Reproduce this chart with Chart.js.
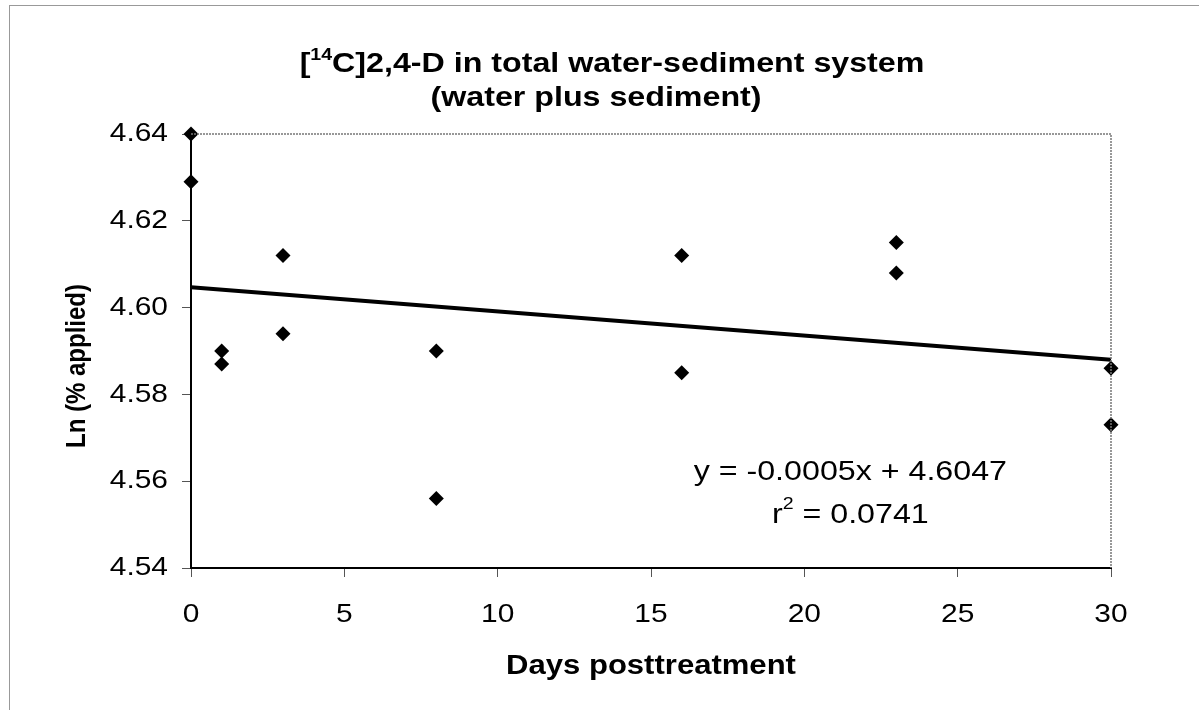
<!DOCTYPE html>
<html>
<head>
<meta charset="utf-8">
<script src="https://cdn.jsdelivr.net/npm/chart.js@4.4.1/dist/chart.umd.min.js"></script>
<style>
  html, body { margin: 0; padding: 0; background: #fff; }
  #wrap { position: relative; width: 1199px; height: 710px; }
  #frame { position: absolute; left: 9px; top: 5px; right: 0; bottom: 0;
           border-top: 1px solid #999; border-left: 1px solid #999; pointer-events: none; }
</style>
</head>
<body>
<div id="wrap">
  <canvas id="chart" width="1199" height="710"></canvas>
  <div id="frame"></div>
</div>
<script>
const days = [0, 0, 1, 1, 3, 3, 8, 8, 16, 16, 23, 23, 30, 30];
const lnApplied = [4.640, 4.629, 4.590, 4.587, 4.612, 4.594, 4.590, 4.556,
                   4.612, 4.585, 4.615, 4.608, 4.586, 4.573];
const trendDays = [0, 30];
const trendValues = [4.6047, 4.5880];
const xTicks = [0, 5, 10, 15, 20, 25, 30];
const yTicks = [4.54, 4.56, 4.58, 4.60, 4.62, 4.64];
const equationText = 'y = -0.0005x + 4.6047';
const r2Value = ' = 0.0741';

const FONT = '"Liberation Sans", Arial, sans-serif';
const STRETCH = 1.15; // the scanned figure has horizontally wide lettering

// widen every piece of text around its anchor point, in screen space
function stretchText(ctx) {
  const orig = ctx.fillText.bind(ctx);
  ctx.fillText = function (text, x, y, maxWidth) {
    const m = ctx.getTransform();
    const p = m.transformPoint(new DOMPoint(x, y));
    ctx.save();
    ctx.setTransform(new DOMMatrix([STRETCH, 0, 0, 1, p.x * (1 - STRETCH), 0]).multiply(m));
    if (maxWidth === undefined) orig(text, x, y);
    else orig(text, x, y, maxWidth);
    ctx.restore();
  };
}

// draws text made of [string, font, raise] parts, centred on cx
function drawParts(c, parts, cx, y) {
  let total = 0;
  parts.forEach(p => { c.font = p[1]; total += c.measureText(p[0]).width * STRETCH; });
  let x = cx - total / 2;
  c.textAlign = 'left';
  parts.forEach(p => {
    c.font = p[1];
    c.fillText(p[0], x, y - p[2]);
    x += c.measureText(p[0]).width * STRETCH;
  });
}

const decorPlugin = {
  id: 'decor',
  afterDraw(chart) {
    const c = chart.ctx;
    const area = chart.chartArea;
    const xs = chart.scales.x;
    const ys = chart.scales.y;
    c.save();

    // dotted frame on top and right of the plot
    c.strokeStyle = '#777';
    c.lineWidth = 1.5;
    c.setLineDash([2, 1]);
    c.beginPath();
    c.moveTo(area.left, area.top);
    c.lineTo(area.right, area.top);
    c.lineTo(area.right, area.bottom);
    c.stroke();
    c.setLineDash([]);

    c.fillStyle = '#000';
    c.textBaseline = 'alphabetic';

    const big = 'bold 28px ' + FONT;
    const sup = 'bold 17px ' + FONT;
    drawParts(c, [['[', big, 0], ['14', sup, 12],
                  ['C]2,4-D in total water-sediment system', big, 0]], 612, 72);
    drawParts(c, [['(water plus sediment)', big, 0]], 596, 106);

    // axis titles
    c.font = 'bold 27px ' + FONT;
    c.textAlign = 'center';
    c.textBaseline = 'middle';
    c.fillText('Days posttreatment', 651, 667);
    c.save();
    c.translate(77, 366);
    c.rotate(-Math.PI / 2);
    c.font = 'bold 24px ' + FONT;
    c.fillText('Ln (% applied)', 0, 0);
    c.restore();

    // regression label
    const ex = xs.getPixelForValue(21.5);
    c.font = '28px ' + FONT;
    c.textAlign = 'center';
    c.fillText(equationText, ex, ys.getPixelForValue(4.5621));
    drawParts(c, [['r', '28px ' + FONT, 0], ['2', '17px ' + FONT, 11],
                  [r2Value, '28px ' + FONT, 0]], ex, ys.getPixelForValue(4.5522));

    c.restore();
  }
};

const canvas = document.getElementById('chart');
stretchText(canvas.getContext('2d'));

new Chart(canvas, {
  type: 'scatter',
  data: {
    datasets: [
      {
        type: 'line',
        label: 'Trend',
        data: trendDays.map((d, i) => ({ x: d, y: trendValues[i] })),
        borderColor: '#000',
        borderWidth: 4,
        pointRadius: 0,
        fill: false,
        clip: false,
        order: 2
      },
      {
        label: 'Ln (% applied)',
        data: days.map((d, i) => ({ x: d, y: lnApplied[i] })),
        pointStyle: 'rectRot',
        pointRadius: 7.5,
        pointHoverRadius: 7.5,
        backgroundColor: '#000',
        borderColor: '#000',
        borderWidth: 0,
        clip: false,
        order: 1
      }
    ]
  },
  options: {
    responsive: false,
    animation: false,
    layout: { padding: { top: 134, right: 88, left: 0, bottom: 0 } },
    plugins: {
      legend: { display: false },
      tooltip: { enabled: false },
      title: { display: false }
    },
    scales: {
      x: {
        type: 'linear',
        min: 0,
        max: 30,
        afterFit: s => { s.height = 142; },
        afterBuildTicks: s => { s.ticks = xTicks.map(v => ({ value: v })); },
        ticks: { color: '#000', font: { family: FONT, size: 26 }, padding: 22 },
        grid: { drawOnChartArea: false, drawTicks: true, tickLength: 9, color: '#555' },
        border: { display: true, color: '#000', width: 2 }
      },
      y: {
        type: 'linear',
        min: 4.54,
        max: 4.64,
        afterFit: s => { s.width = 191; },
        afterBuildTicks: s => { s.ticks = yTicks.map(v => ({ value: v })); },
        ticks: {
          color: '#000',
          font: { family: FONT, size: 26 },
          padding: 14,
          callback: v => v.toFixed(2)
        },
        grid: { drawOnChartArea: false, drawTicks: true, tickLength: 9, color: '#555' },
        border: { display: true, color: '#000', width: 2 }
      }
    }
  },
  plugins: [decorPlugin]
});
</script>
</body>
</html>
